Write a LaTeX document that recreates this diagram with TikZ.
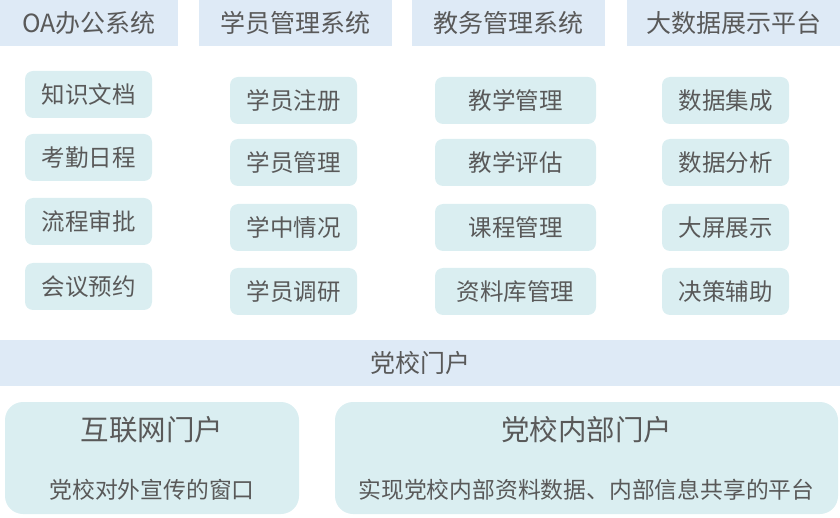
\documentclass[tikz,border=0pt]{standalone}
\usepackage{fontspec}
\setmainfont{Noto Sans CJK SC}
\definecolor{hdrfill}{HTML}{DEEAF6}
\definecolor{boxfill}{HTML}{DAEEF1}
\definecolor{txt}{HTML}{595959}
\tikzset{
  hdr/.style={fill=hdrfill, text=txt, inner sep=0pt, minimum height=46pt, font=\fontsize{25}{25}\selectfont},
  item/.style={fill=boxfill, text=txt, rounded corners=8pt, inner sep=0pt, minimum height=47pt, minimum width=127pt, font=\fontsize{23.5}{23.5}\selectfont},
  wideitem/.style={item, minimum width=161pt},
  portal/.style={fill=boxfill, rounded corners=18pt, inner sep=0pt, minimum height=112pt},
  ptitle/.style={text=txt, inner sep=0pt, font=\fontsize{28.5}{28.5}\selectfont},
  psub/.style={text=txt, inner sep=0pt, font=\fontsize{22.8}{22.8}\selectfont},
}
\begin{document}
\begin{tikzpicture}[x=1pt,y=-1pt]
\useasboundingbox (0,0) rectangle (840,518);
% headers
\node[hdr, minimum width=178pt] (h1) at (89,23) {OA办公系统};
\node[hdr, minimum width=193pt] (h2) at (295.5,23) {学员管理系统};
\node[hdr, minimum width=193pt] (h3) at (508.5,23) {教务管理系统};
\node[hdr, minimum width=213pt] (h4) at (733.5,23) {大数据展示平台};
% column 1
\node[item] (a1) at (88.5,94.5) {知识文档};
\node[item] (a2) at (88.5,157.5) {考勤日程};
\node[item] (a3) at (88.5,221.5) {流程审批};
\node[item] (a4) at (88.5,286.5) {会议预约};
% column 2
\node[item] (b1) at (293.5,100.5) {学员注册};
\node[item] (b2) at (293.5,162.5) {学员管理};
\node[item] (b3) at (293.5,227.5) {学中情况};
\node[item] (b4) at (293.5,291.5) {学员调研};
% column 3
\node[wideitem] (c1) at (515.5,100.5) {教学管理};
\node[wideitem] (c2) at (515.5,162.5) {教学评估};
\node[wideitem] (c3) at (515.5,227.5) {课程管理};
\node[wideitem] (c4) at (515.5,291.5) {资料库管理};
% column 4
\node[item] (d1) at (725.5,100.5) {数据集成};
\node[item] (d2) at (725.5,162.5) {数据分析};
\node[item] (d3) at (725.5,227.5) {大屏展示};
\node[item] (d4) at (725.5,291.5) {决策辅助};
% bar
\node[hdr, minimum width=840pt] (bar) at (420,363) {党校门户};
% portals
\node[portal, minimum width=294pt] (p1) at (152,458) {};
\node[ptitle] (p1t) at (152,430) {互联网门户};
\node[psub] (p1s) at (152,490) {党校对外宣传的窗口};
\node[portal, minimum width=503pt] (p2) at (586.5,458) {};
\node[ptitle] (p2t) at (586.5,430) {党校内部门户};
\node[psub] (p2s) at (586.5,490) {实现党校内部资料数据、内部信息共享的平台};
\end{tikzpicture}
\end{document}
